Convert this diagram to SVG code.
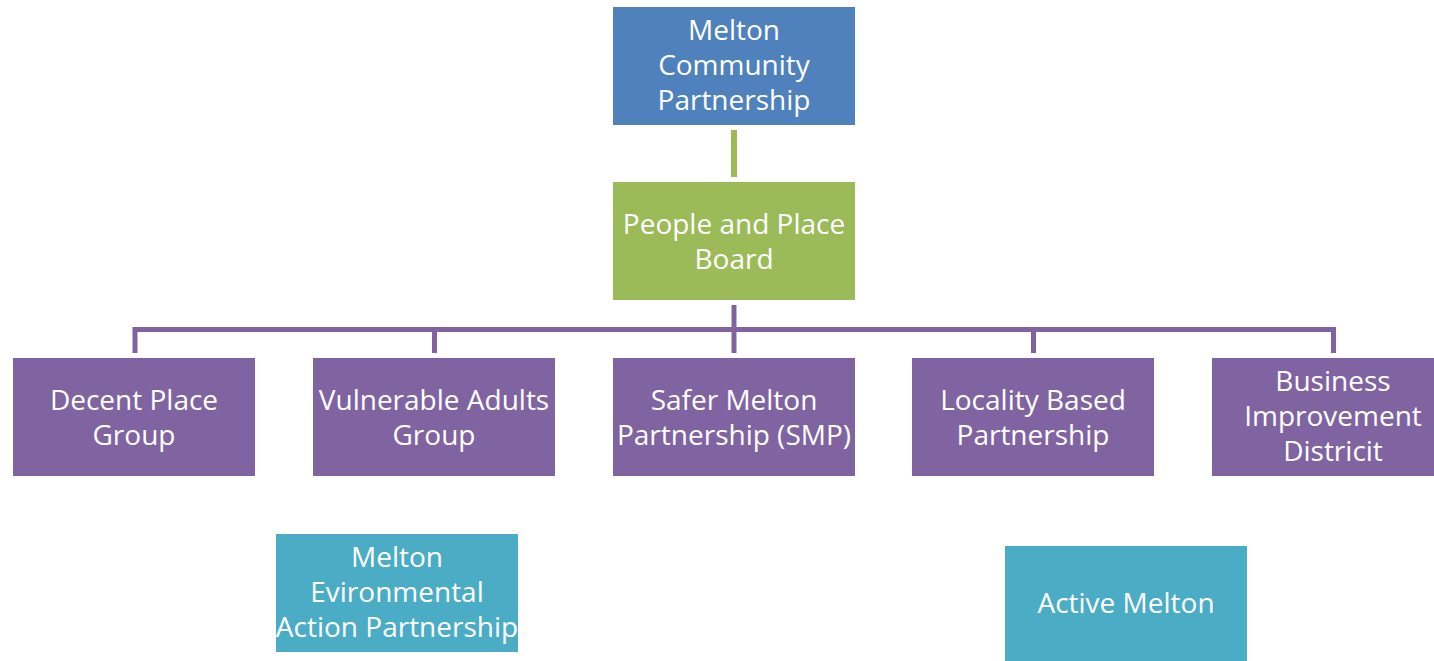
<svg xmlns="http://www.w3.org/2000/svg" width="1434" height="661" viewBox="0 0 1434 661">
  <style>
    .box { stroke: none; }
    .blue { fill: #4F81BD; }
    .green { fill: #9BBB59; }
    .purple { fill: #8064A2; }
    .teal { fill: #4BACC6; }
    .label { font-family: "Open Sans", "Liberation Sans", sans-serif; font-size: 28px; fill: #FFFFFF; text-anchor: middle; }
    .link-green { stroke: #9BBB59; stroke-width: 6; fill: none; }
    .link-purple { stroke: #8064A2; stroke-width: 5; fill: none; stroke-linejoin: miter; }
  </style>
  <rect width="1434" height="661" fill="#FFFFFF"/>

  <!-- connectors -->
  <g id="connectors">
    <line class="link-green" x1="734" y1="130" x2="734" y2="177"/>
    <line class="link-purple" x1="734" y1="305" x2="734" y2="353"/>
    <path class="link-purple" d="M135 353 V329.5 H1333.5 V353"/>
    <line class="link-purple" x1="434.5" y1="329.5" x2="434.5" y2="353"/>
    <line class="link-purple" x1="1033.5" y1="329.5" x2="1033.5" y2="353"/>
  </g>

  <!-- top level -->
  <g id="node-melton-community-partnership">
    <rect class="box blue" x="613" y="7" width="242" height="118"/>
    <text class="label" x="734" y="40">Melton</text>
    <text class="label" x="734" y="75">Community</text>
    <text class="label" x="734" y="110">Partnership</text>
  </g>

  <g id="node-people-and-place-board">
    <rect class="box green" x="613" y="182" width="242" height="118"/>
    <text class="label" x="734" y="234">People and Place</text>
    <text class="label" x="734" y="269">Board</text>
  </g>

  <!-- groups under the board -->
  <g id="node-decent-place-group">
    <rect class="box purple" x="13" y="358" width="242" height="118"/>
    <text class="label" x="134" y="410">Decent Place</text>
    <text class="label" x="134" y="445">Group</text>
  </g>

  <g id="node-vulnerable-adults-group">
    <rect class="box purple" x="313" y="358" width="242" height="118"/>
    <text class="label" x="434" y="410">Vulnerable Adults</text>
    <text class="label" x="434" y="445">Group</text>
  </g>

  <g id="node-safer-melton-partnership">
    <rect class="box purple" x="613" y="358" width="242" height="118"/>
    <text class="label" x="734" y="410">Safer Melton</text>
    <text class="label" x="734" y="445">Partnership (SMP)</text>
  </g>

  <g id="node-locality-based-partnership">
    <rect class="box purple" x="912" y="358" width="242" height="118"/>
    <text class="label" x="1033" y="410">Locality Based</text>
    <text class="label" x="1033" y="445">Partnership</text>
  </g>

  <g id="node-business-improvement-district">
    <rect class="box purple" x="1212" y="358" width="242" height="118"/>
    <text class="label" x="1333" y="391">Business</text>
    <text class="label" x="1333" y="426">Improvement</text>
    <text class="label" x="1333" y="461">Districit</text>
  </g>

  <!-- standalone partnerships -->
  <g id="node-melton-environmental-action-partnership">
    <rect class="box teal" x="276" y="534" width="242" height="118"/>
    <text class="label" x="397" y="567">Melton</text>
    <text class="label" x="397" y="602">Evironmental</text>
    <text class="label" x="397" y="637">Action Partnership</text>
  </g>

  <g id="node-active-melton">
    <rect class="box teal" x="1005" y="546" width="242" height="118"/>
    <text class="label" x="1126" y="613">Active Melton</text>
  </g>
</svg>
